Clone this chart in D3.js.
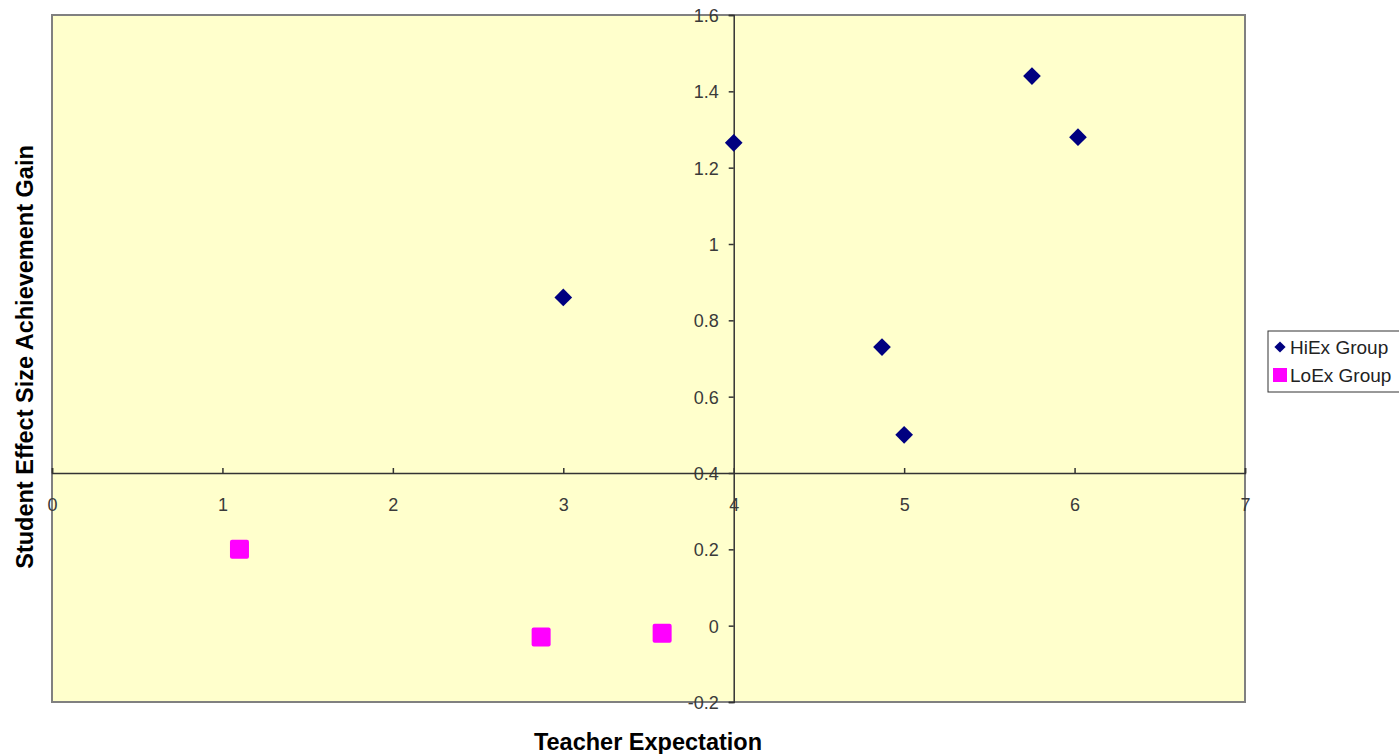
<!DOCTYPE html>
<html>
<head>
<meta charset="utf-8">
<script src="https://cdn.jsdelivr.net/npm/d3@7"></script>
<style>
  html, body { margin: 0; padding: 0; background: #ffffff; }
  svg { display: block; font-family: "Liberation Sans", Arial, sans-serif; }
</style>
</head>
<body>
<svg id="chart" width="1399" height="754"></svg>
<script>
// Series data: teacher expectation (x) vs student effect size achievement gain (y)
const hiExX = [3.0, 4.0, 4.87, 5.0, 5.75, 6.02];
const hiExY = [0.86, 1.265, 0.73, 0.50, 1.44, 1.28];
const loExX = [1.10, 2.87, 3.58];
const loExY = [0.20, -0.03, -0.02];

const xTicks = [0, 1, 2, 3, 4, 5, 6, 7];
const yTicks = [-0.2, 0, 0.2, 0.4, 0.6, 0.8, 1, 1.2, 1.4, 1.6];
const seriesNames = ["HiEx Group", "LoEx Group"];

const svg = d3.select("#chart");
const plot = { left: 52, right: 1245, top: 15, bottom: 702 };

const x = d3.scaleLinear().domain([0, 7]).range([plot.left, plot.right]);
const y = d3.scaleLinear().domain([-0.2, 1.6]).range([plot.bottom, plot.top]);

// plot area
svg.append("rect")
  .attr("x", plot.left).attr("y", plot.top)
  .attr("width", plot.right - plot.left).attr("height", plot.bottom - plot.top)
  .attr("fill", "#ffffcc").attr("stroke", "#808080").attr("stroke-width", 2);

const fmt = d => String(+d.toFixed(1));

// vertical axis crossing at x = 4
const yAxis = svg.append("g")
  .attr("transform", `translate(${x(4)},0)`)
  .call(d3.axisLeft(y).tickValues(yTicks).tickFormat(fmt).tickSize(5).tickPadding(10));

// horizontal axis crossing at y = 0.4
const xAxis = svg.append("g")
  .attr("transform", `translate(0,${y(0.4)})`)
  .call(d3.axisTop(x).tickValues(xTicks).tickFormat(d3.format("d")).tickSize(5));

[yAxis, xAxis].forEach(g => {
  g.attr("font-size", 18).attr("font-family", "\"Liberation Sans\", Arial, sans-serif");
  g.select(".domain").attr("stroke", "#333333").attr("stroke-width", 1.5);
  g.selectAll(".tick line").attr("stroke", "#333333").attr("stroke-width", 1.5);
  g.selectAll(".tick text").attr("fill", "#3a3a3a");
});
xAxis.selectAll(".tick text").attr("y", 38).attr("dy", "0");
yAxis.selectAll(".tick text").attr("dy", "0.36em");

// HiEx diamonds
const diamond = d3.symbol().type(d3.symbolDiamond2).size(200);
svg.append("g").selectAll("path")
  .data(hiExX.map((v, i) => [v, hiExY[i]]))
  .join("path")
  .attr("d", diamond)
  .attr("transform", d => `translate(${x(d[0])},${y(d[1])})`)
  .attr("fill", "#000080");

// LoEx squares
const sq = 19;
svg.append("g").selectAll("rect")
  .data(loExX.map((v, i) => [v, loExY[i]]))
  .join("rect")
  .attr("x", d => x(d[0]) - sq / 2)
  .attr("y", d => y(d[1]) - sq / 2)
  .attr("width", sq).attr("height", sq)
  .attr("rx", 2)
  .attr("fill", "#ff00ff");

// axis titles
svg.append("text")
  .attr("x", 648).attr("y", 750)
  .attr("text-anchor", "middle")
  .style("font-size", "23.5px").style("font-weight", "bold")
  .attr("fill", "#000")
  .text("Teacher Expectation");

svg.append("text")
  .attr("transform", `translate(33,357) rotate(-90)`)
  .attr("text-anchor", "middle")
  .style("font-size", "23.5px").style("font-weight", "bold")
  .attr("fill", "#000")
  .text("Student Effect Size Achievement Gain");

// legend
const legend = svg.append("g").attr("transform", "translate(1268,331)");
legend.append("rect")
  .attr("x", 0).attr("y", 0).attr("width", 140).attr("height", 61)
  .attr("fill", "#ffffff").attr("stroke", "#333333").attr("stroke-width", 1);

legend.append("path")
  .attr("d", d3.symbol().type(d3.symbolDiamond2).size(80)())
  .attr("transform", "translate(12,16)")
  .attr("fill", "#000080");
legend.append("rect")
  .attr("x", 5).attr("y", 37).attr("width", 14).attr("height", 14)
  .attr("fill", "#ff00ff");

legend.selectAll("text.lbl")
  .data(seriesNames)
  .join("text")
  .attr("class", "lbl")
  .attr("x", 22).attr("y", (d, i) => 23 + i * 28)
  .style("font-size", "19px")
  .attr("fill", "#222")
  .text(d => d);
</script>
</body>
</html>
